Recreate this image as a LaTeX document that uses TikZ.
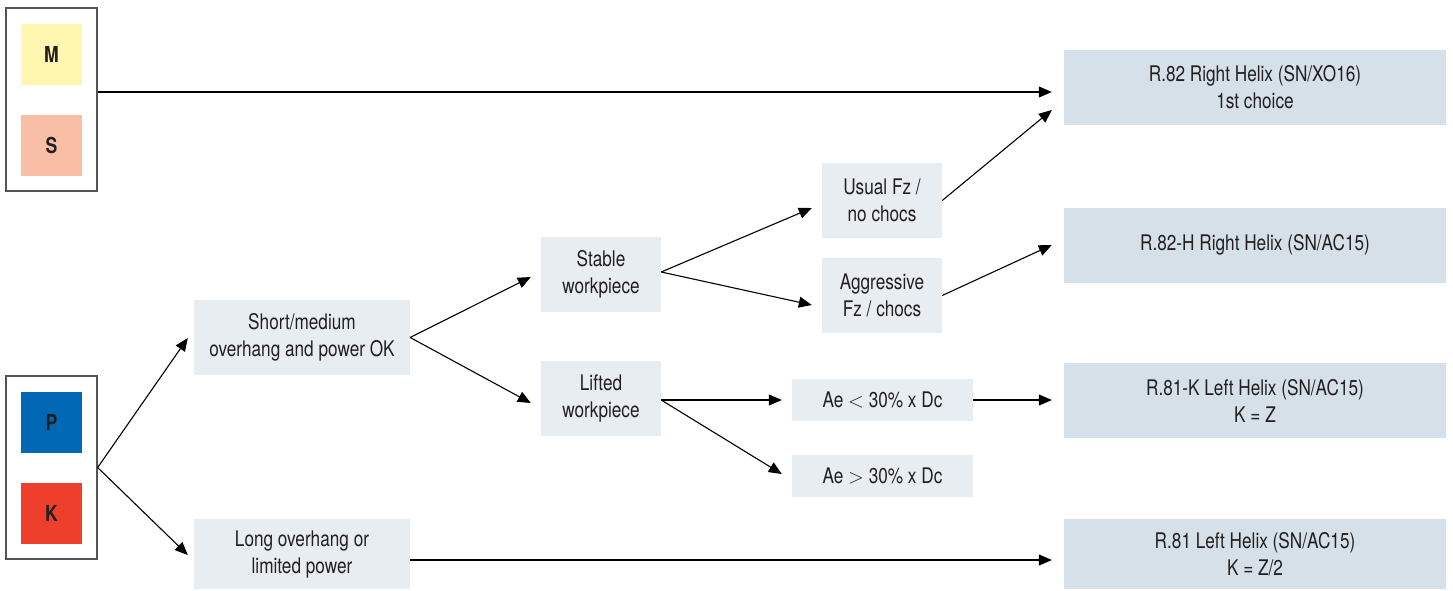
\documentclass[tikz,border=0pt]{standalone}
\usepackage{fontspec}
\setmainfont{TeX Gyre Heros}[FakeStretch=0.8]
\usetikzlibrary{arrows.meta}
\definecolor{txt}{HTML}{231F20}
\definecolor{stepfill}{HTML}{E8EDF2}
\definecolor{resfill}{HTML}{D5E0E8}
\definecolor{matM}{HTML}{FFF6B0}
\definecolor{matS}{HTML}{F8BEA6}
\definecolor{matP}{HTML}{0068B5}
\definecolor{matK}{HTML}{EE3E2C}
\definecolor{frame}{HTML}{555555}
\begin{document}
\begin{tikzpicture}[x=1pt,y=-1pt,
  every node/.style={text=txt,font=\fontsize{21.5}{27}\selectfont,align=center,inner sep=0pt},
  stepbox/.style={fill=stepfill,minimum width=#1,minimum height=75pt},
  stepbox/.default=120pt,
  resbox/.style={fill=resfill,minimum width=382pt,minimum height=75pt},
  matbox/.style={fill=#1,minimum width=61pt,minimum height=61pt,font=\bfseries\fontsize{22}{24}\selectfont},
  groupbox/.style={draw=frame,line width=1.3pt,minimum width=91pt,minimum height=183pt},
  link/.style={line width=1.1pt,-{Triangle[length=13pt,width=11pt]}}]
\useasboundingbox (0,0) rectangle (1453,590);

% material groups
\node[groupbox] (ms) at (51.5,99.5) {};
\node[matbox=matM] (m) at (51.5,54.5) {M};
\node[matbox=matS] (s) at (51.5,145.5) {S};
\node[groupbox] (pk) at (51.5,467.5) {};
\node[matbox=matP] (p) at (51.5,422) {P};
\node[matbox=matK] (k) at (51.5,513) {K};

% decision steps
\node[stepbox=216pt] (short) at (302,337.5) {Short/medium\\overhang and power OK};
\node[stepbox=216pt,minimum height=70pt] (long) at (302,554) {Long overhang or\\limited power};
\node[stepbox] (stable) at (601,274.5) {Stable\\workpiece};
\node[stepbox] (lifted) at (601,398.5) {Lifted\\workpiece};
\node[stepbox] (usual) at (882,200.5) {Usual Fz /\\no chocs};
\node[stepbox] (aggr) at (882,295.5) {Aggressive\\Fz / chocs};
\node[stepbox=181pt,minimum height=42pt] (aeless) at (882.5,400) {Ae $<$ 30\% x Dc};
\node[stepbox=181pt,minimum height=42pt] (aemore) at (882.5,476) {Ae $>$ 30\% x Dc};

% recommended tools
\node[resbox] (r82) at (1255,87.5) {R.82 Right Helix (SN/XO16)\\1st choice};
\node[resbox] (r82h) at (1255,245) {R.82-H Right Helix (SN/AC15)};
\node[resbox] (r81k) at (1255,400.5) {R.81-K Left Helix (SN/AC15)\\K = Z};
\node[resbox,minimum height=70pt] (r81) at (1255,554) {R.81 Left Helix (SN/AC15)\\K = Z/2};

% connectors (yshift is measured upwards on the page)
\draw[link] ([yshift=7.5pt]ms.east) -- ([xshift=-12pt,yshift=-4.5pt]r82.west);
\draw[link] (pk.east) -- ([xshift=-6pt]short.south west |- 0,338);
\draw[link] (pk.east) -- ([xshift=-6pt]long.west |- 0,555);
\draw[link] (short.east) -- ([xshift=-10pt,yshift=-2.5pt]stable.west);
\draw[link] (short.east) -- ([xshift=-10pt,yshift=-4.5pt]lifted.west);
\draw[link] ([yshift=2.5pt]stable.east) -- ([xshift=-10pt,yshift=-7.5pt]usual.west);
\draw[link] ([yshift=2.5pt]stable.east) -- ([xshift=-10pt,yshift=-9.5pt]aggr.west);
\draw[link] ([yshift=-1.5pt]lifted.east) -- ([xshift=-10pt]aeless.west);
\draw[link] ([yshift=-1.5pt]lifted.east) -- ([xshift=-10pt,yshift=2pt]aemore.west);
\draw[link] (usual.east) -- ([xshift=-12pt,yshift=-22.5pt]r82.west);
\draw[link] (aggr.east) -- ([xshift=-12pt]r82h.west);
\draw[link] (aeless.east) -- ([xshift=-12pt,yshift=0.5pt]r81k.west);
\draw[link] ([yshift=-6pt]long.east) -- ([xshift=-12pt,yshift=-6pt]r81.west);
\end{tikzpicture}
\end{document}
